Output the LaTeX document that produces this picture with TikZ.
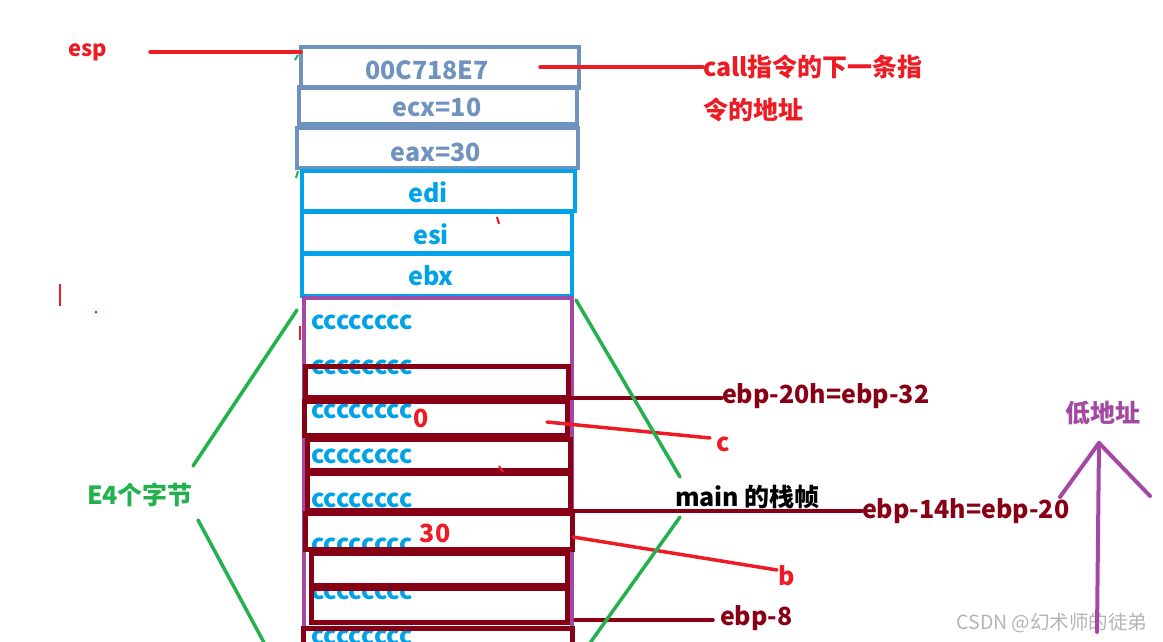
\documentclass[tikz,border=0pt]{standalone}
\usepackage{fontspec}
\setmainfont{Noto Sans CJK SC}
\definecolor{cred}{HTML}{ED1C24}
\definecolor{cdark}{HTML}{880015}
\definecolor{cslate}{HTML}{7092BE}
\definecolor{cblue}{HTML}{00A2E8}
\definecolor{cpurple}{HTML}{A349A4}
\definecolor{cgreen}{HTML}{22B14C}
\definecolor{cgray}{HTML}{B4B4B4}
\begin{document}
\begin{tikzpicture}[x=1pt,y=-1pt,
  every node/.style={inner sep=0pt,outer sep=0pt},
  txt/.style={font=\fontsize{25}{28}\selectfont\bfseries},
  slatebox/.style={draw=cslate,line width=4pt},
  bluebox/.style={draw=cblue,line width=4pt},
  purplebox/.style={draw=cpurple,line width=4pt},
  darkbox/.style={draw=cdark,line width=5pt},
  redline/.style={draw=cred,line width=3.5pt,line cap=round},
  darkline/.style={draw=cdark,line width=3.5pt,line cap=round},
  greenline/.style={draw=cgreen,line width=3.5pt,line cap=round},
  purpleline/.style={draw=cpurple,line width=4pt,line cap=round},
  ctext/.style={txt,text=cblue,anchor=west}]
\useasboundingbox (0,0) rectangle (1163,642);
\begin{scope}
\clip (0,0) rectangle (1163,642);
% upper boxes
\node[slatebox,minimum width=278,minimum height=41] (b1) at (440,67.5) {};
\node[slatebox,minimum width=278,minimum height=37] (b2) at (438,105.5) {};
\node[slatebox,minimum width=281,minimum height=40] (b3) at (437.5,148) {};
\node[bluebox,minimum width=273,minimum height=40] (bedi) at (438.5,191) {};
\node[bluebox,minimum width=270,minimum height=41] (besi) at (437,232.5) {};
\node[bluebox,minimum width=270,minimum height=42] (bebx) at (437,275) {};
\node[txt,text=cslate] (t1) at (427,70) {00C718E7};
\node[txt,text=cslate] (t2) at (437,107) {ecx=10};
\node[txt,text=cslate] (t3) at (436,152) {eax=30};
\node[txt,text=cblue] (t4) at (428,192) {edi};
\node[txt,text=cblue] (t5) at (431,234) {esi};
\node[txt,text=cblue] (t6) at (431,276) {ebx};
% frame
\node[purplebox,minimum width=268,minimum height=362] (frame) at (438,479) {};
\node[ctext] (c1) at (311,322) {cccccccc};
\node[ctext] (c2) at (311,367) {cccccccc};
\node[ctext] (c3) at (311,411) {cccccccc};
\node[ctext] (c4) at (311,456) {cccccccc};
\node[ctext] (c5) at (311,500) {cccccccc};
\node[ctext] (c6) at (311,545) {cccccccc};
\node[ctext] (c7) at (311,592) {cccccccc};
\node[ctext] (c8) at (311,637) {cccccccc};
\node[darkbox,minimum width=263,minimum height=31] (r1) at (436.5,381.5) {};
\node[darkbox,minimum width=263,minimum height=34] (r2) at (435.5,418) {};
\node[darkbox,minimum width=263,minimum height=31] (r3) at (438.5,454.5) {};
\node[darkbox,minimum width=263,minimum height=37] (r4) at (438.5,491.5) {};
\node[darkbox,minimum width=267,minimum height=36] (r5) at (438.5,531) {};
\node[darkbox,minimum width=256,minimum height=32] (r6) at (439,569) {};
\node[darkbox,minimum width=256,minimum height=34] (r7) at (439,605) {};
\node[darkbox,minimum width=269,minimum height=32] (r8) at (437.5,644) {};
\node[txt,text=cred] (v0) at (421,418) {0};
\node[txt,text=cred] (v30) at (435,533) {30};
% labels
\node[txt,text=cred,font=\fontsize{22}{24}\selectfont\bfseries] (esp) at (88,52) {esp};
\node[txt,text=cred,anchor=west] (call) at (703,67) {call指令的下一条指};
\node[txt,text=cred,anchor=west] (call2) at (703,110) {令的地址};
\node[txt,text=cdark,anchor=west] (l20) at (722,396) {ebp-20h=ebp-32};
\node[txt,text=cred] (lc) at (723,444) {c};
\node[txt,text=cgreen] (e4) at (140,495) {E4个字节};
\node[txt,text=black,anchor=west] (mainf) at (675,497) {main 的栈帧};
\node[txt,text=cdark,anchor=west] (l14) at (862,511) {ebp-14h=ebp-20};
\node[txt,text=cred] (lb) at (787,576) {b};
\node[txt,text=cdark,anchor=west] (l8) at (720,618) {ebp-8};
\node[txt,text=cpurple] (low) at (1103,413) {低地址};
\node[text=cgray,font=\fontsize{19.5}{22}\selectfont] (wm) at (1052,623) {CSDN @幻术师的徒弟};
% connectors
\coordinate (espS) at (150,52);
\draw[redline] (espS) -- (espS -| b1.west);
\coordinate (callS) at (540,67);
\draw[redline] (callS) -- (callS -| call.west);
\coordinate (d20) at (570,398);
\draw[darkline] (d20) -- (d20 -| l20.west);
\coordinate (cS) at (547,422);
\coordinate (cE) at (710,438);
\draw[redline] (cS) -- (cE);
\coordinate (d14) at (572,511);
\draw[darkline] (d14) -- (d14 -| l14.west);
\coordinate (bS) at (573,537);
\coordinate (bE) at (777,570);
\draw[redline] (bS) -- (bE);
\coordinate (d8) at (575,620);
\coordinate (d8e) at (713,620);
\draw[darkline] (d8) -- (d8e);
% green braces
\coordinate (g1) at (297,310); \coordinate (g2) at (193,466);
\coordinate (g3) at (198,520); \coordinate (g4) at (268,650);
\coordinate (g5) at (576,300); \coordinate (g6) at (680,477);
\coordinate (g7) at (680,517); \coordinate (g8) at (585,650);
\draw[greenline] (g1) -- (g2);
\draw[greenline] (g3) -- (g4);
\draw[greenline] (g5) -- (g6);
\draw[greenline] (g7) -- (g8);
% arrow to low address
\coordinate (aT) at (1099,443); \coordinate (aB) at (1097,632);
\coordinate (aL) at (1060,497); \coordinate (aR) at (1150,496);
\draw[purpleline] (aB) -- (aT);
\draw[purpleline] (aT) -- (aL);
\draw[purpleline] (aT) -- (aR);
% stray marks
\draw[cred,line width=1.5pt] (60,284) -- (60,306);
\fill[cred] (96,312) circle (1.5);
\draw[cred,line width=1.5pt] (300,326) -- (300,340);
\draw[cred,line width=2pt] (497,217) -- (499,224);
\draw[cred,line width=2pt] (499,466) -- (503,472);
\draw[cgreen,line width=2pt] (295,60) -- (298,55);
\draw[cgreen,line width=2pt] (296,178) -- (298,171);
\end{scope}
\end{tikzpicture}
\end{document}
